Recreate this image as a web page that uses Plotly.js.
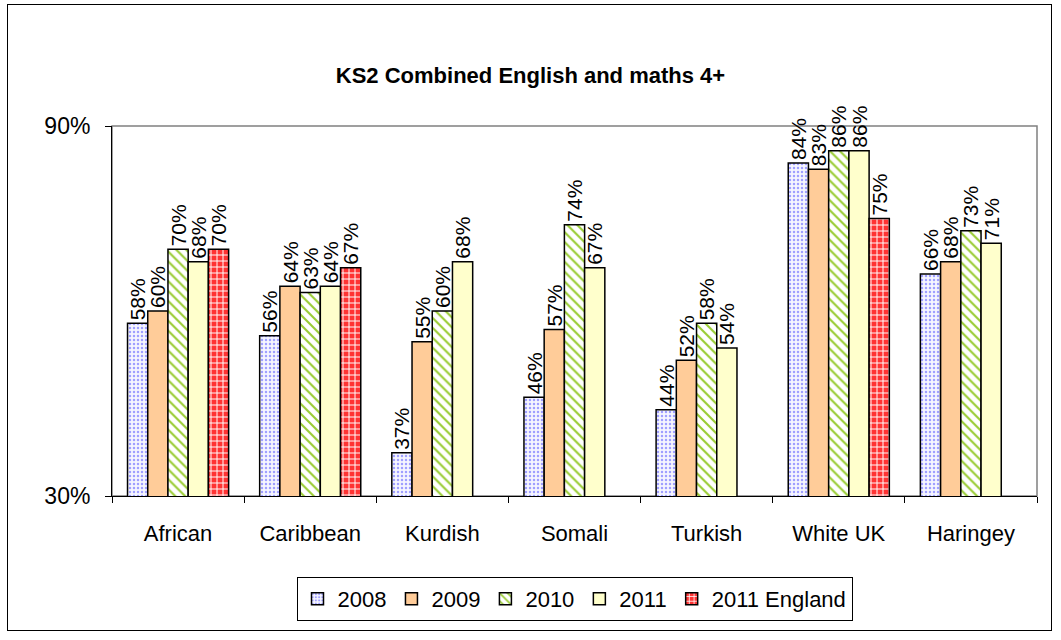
<!DOCTYPE html>
<html>
<head>
<meta charset="utf-8">
<script src="https://cdn.plot.ly/plotly-3.0.1.min.js"></script>
<style>
html, body { margin: 0; padding: 0; background: #fff; }
#wrap { position: relative; width: 1061px; height: 640px; }
#chart { width: 1061px; height: 640px; }
#frame { position: absolute; left: 7px; top: 4px; width: 1045px; height: 627px; border: 1px solid #000; pointer-events: none; box-sizing: border-box; }
</style>
</head>
<body>
<div id="wrap">
<div id="chart"></div>
<div id="frame"></div>
</div>
<script>
const categories = ["African", "Caribbean", "Kurdish", "Somali", "Turkish", "White UK", "Haringey"];
const s2008 = [58, 56, 37, 46, 44, 84, 66];
const s2009 = [60, 64, 55, 57, 52, 83, 68];
const s2010 = [70, 63, 60, 74, 58, 86, 73];
const s2011 = [68, 64, 68, 67, 54, 86, 71];
const s2011England = [70, 67, null, null, null, 75, null];
const seriesNames = ["2008", "2009", "2010", "2011", "2011 England"];
const yTickVals = [30, 90];
const yTickText = ["30%", "90%"];

const FONT = "Arial, 'Liberation Sans', sans-serif";
const line = {color: "#000", width: 1.5};

function trace(name, values, marker) {
  return {
    type: "bar",
    name: name,
    x: categories,
    y: values,
    marker: Object.assign({line: line}, marker),
    texttemplate: "%{y}%",
    textposition: "outside",
    textangle: -90,
    constraintext: "none",
    cliponaxis: false,
    textfont: {family: FONT, size: 21, color: "#000"},
    hoverinfo: "x+y+name"
  };
}

const data = [
  trace(seriesNames[0], s2008, {color: "#FFFFFF", pattern: {shape: ".", fgcolor: "#A0A0FF", bgcolor: "#F6F6FF", size: 4, solidity: 0.3}}),
  trace(seriesNames[1], s2009, {color: "#FFCC99"}),
  trace(seriesNames[2], s2010, {color: "#FFFFFF", pattern: {shape: "\\", fgcolor: "#99CC33", bgcolor: "#FFFFFF", size: 7, solidity: 0.3}}),
  trace(seriesNames[3], s2011, {color: "#FFFFCC"}),
  trace(seriesNames[4], s2011England, {color: "#FF3333", pattern: {shape: "+", fgcolor: "#FFFFFF", bgcolor: "#FF3333", size: 6, solidity: 0.3}})
];

const layout = {
  width: 1061,
  height: 640,
  margin: {l: 112, r: 24, t: 126, b: 144},
  paper_bgcolor: "#FFFFFF",
  plot_bgcolor: "#FFFFFF",
  font: {family: FONT, size: 22, color: "#000"},
  title: {text: "<b>KS2 Combined English and maths 4+</b>", font: {family: FONT, size: 22, color: "#000"}, x: 0.5, xanchor: "center", y: 0.883, yanchor: "middle", yref: "container"},
  barmode: "group",
  bargap: 0.235,
  bargroupgap: 0,
  showlegend: true,
  legend: {
    orientation: "h",
    x: 0.5, xanchor: "center",
    y: -0.219, yanchor: "top",
    bordercolor: "#000", borderwidth: 1, bgcolor: "#FFFFFF",
    font: {family: FONT, size: 22, color: "#000"},
    itemwidth: 30,
    traceorder: "normal"
  },
  xaxis: {
    type: "category",
    showline: true, linecolor: "#000", linewidth: 1,
    ticks: "outside", tickson: "boundaries", ticklen: 6, tickcolor: "#000",
    ticklabelstandoff: 18,
    tickfont: {family: FONT, size: 22, color: "#000"},
    showgrid: false, zeroline: false,
    fixedrange: true
  },
  yaxis: {
    range: [30, 90],
    tickvals: yTickVals, ticktext: yTickText,
    showline: true, linecolor: "#000", linewidth: 1,
    ticks: "outside", ticklen: 6, tickcolor: "#000",
    ticklabelstandoff: 10,
    tickfont: {family: FONT, size: 23, color: "#000"},
    showgrid: false, zeroline: false,
    fixedrange: true
  },
  shapes: [
    {type: "rect", xref: "paper", yref: "paper", x0: 0, x1: 1, y0: 0, y1: 1, line: {color: "#808080", width: 1.5}, layer: "below"}
  ]
};

Plotly.newPlot("chart", data, layout, {displayModeBar: false, staticPlot: true});
</script>
</body>
</html>
